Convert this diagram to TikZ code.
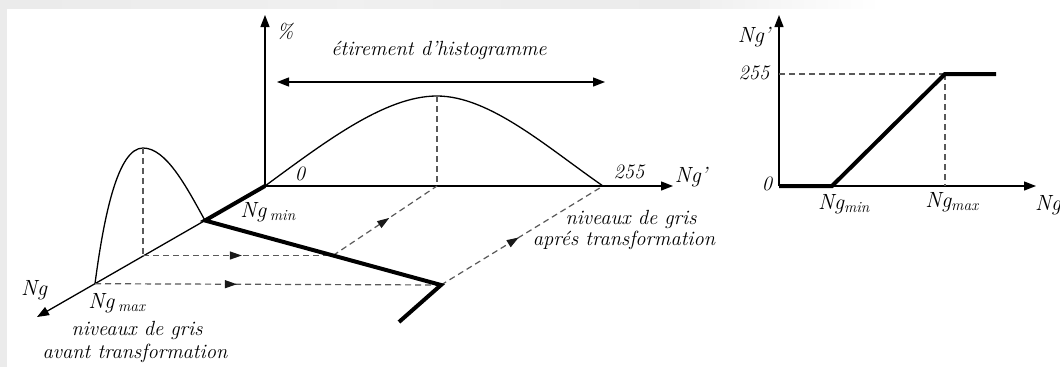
\documentclass[tikz,border=0pt]{standalone}
\usetikzlibrary{arrows.meta,decorations.markings}
\begin{document}
\begin{tikzpicture}[x=1pt,y=-1pt,
  thinln/.style={line width=1.3pt},
  thickln/.style={line width=4pt, line join=miter},
  tip/.tip={Triangle[length=12pt,width=9pt]},
  axis/.style={thinln,-tip},
  dsh/.style={line width=1.2pt, dash pattern=on 6pt off 4pt, draw=black!65},
  midarrow/.style={postaction={decorate}, decoration={markings,
     mark=at position #1 with {\arrow[black!90]{Triangle[length=12pt,width=8pt]}}}},
  lbl/.style={font=\fontsize{20.5}{24}\selectfont\itshape, inner sep=0pt},
  big/.style={font=\fontsize{22}{26}\selectfont\itshape, inner sep=0pt}]
\useasboundingbox (0,0) rectangle (1060,367);
\fill[white] (0,0) rectangle (1060,367);
\shade[left color=black!8, right color=black!8, middle color=black!6] (0,0) rectangle (700,8);
\shade[left color=black!6, right color=white] (700,0) rectangle (880,8);
\fill[black!8] (0,0) rectangle (7,367);

% ---- left: histograms ----
\coordinate (O) at (265,186);
\coordinate (Ptop) at (265,15);
\coordinate (Pright) at (673,186);
\coordinate (Ngtip) at (37,317);
\coordinate (A) at (205,220.5);
\coordinate (M) at (95,283.7);
\coordinate (S) at (143,148);
\coordinate (Sf) at (143,255.5);
\coordinate (Sr) at (500,255.5);
\coordinate (P) at (437,96);
\coordinate (Pf) at (437,186);
\coordinate (E) at (603,186);
\coordinate (B) at (441,285);
\coordinate (C) at (399,322);
\coordinate (X) at (intersection of A--B and Sf--Sr);
\coordinate (L1) at (277,82);
\coordinate (L2) at (605,82);

\draw[axis] (O) -- (Ptop);
\draw[axis] (O) -- (Pright);
\draw[axis] (O) -- (Ngtip);
\draw[thinln, tip-tip] (L1) -- (L2);

\draw[thinln] (O) .. controls (325,142) and (385,96) .. (P)
               .. controls (490,96) and (548,148) .. (E);
\draw[thinln] (M) .. controls (104,215) and (118,148) .. (S)
               .. controls (166,148) and (186,186) .. (A);

\draw[dsh] (S) -- (Sf);
\draw[dsh] (P) -- (Pf);

\draw[dsh, midarrow=0.52] (Sf) -- (X);
\draw[dsh, midarrow=0.54] (X) -- (Pf);
\draw[dsh, midarrow=0.41] (M) -- (B);
\draw[dsh, midarrow=0.48] (B) -- (E);

\draw[thickln] (O) -- (A) -- (B) -- (C);

\node[lbl] (pct) at (285,31) {\%};
\node[lbl] (etir) at (439,50) {étirement d’histogramme};
\node[lbl] (zero) at (300,174) {0};
\node[lbl] (t255) at (629,172) {255};
\node[big] (ngp) at (691,177) {Ng’};
\node[big] (ngmin) at (268,212) {Ng\,\textsubscript{min}};
\node[big] (ngmax) at (117,303) {Ng\,\textsubscript{max}};
\node[big] (ng) at (34,290) {Ng};
\node[lbl] (nv1) at (137,330) {niveaux de gris};
\node[lbl] (av) at (135,353) {avant transformation};
\node[lbl] (nv2) at (631,219) {niveaux de gris};
\node[lbl] (ap) at (624,240) {aprés transformation};

% ---- right: transfer function ----
\coordinate (R0) at (779,186);
\coordinate (Rtop) at (779,15);
\coordinate (Rright) at (1036,186);
\coordinate (R1) at (832,186);
\coordinate (R2) at (945,74);
\coordinate (R3) at (996,74);
\coordinate (R255) at (779,74);
\coordinate (Rf) at (945,186);

\draw[axis] (R0) -- (Rtop);
\draw[axis] (R0) -- (Rright);
\draw[dsh] (R255) -- (R2);
\draw[dsh] (R2) -- (Rf);
\draw[thickln] (R0) -- (R1) -- (R2) -- (R3);

\node[big] (rngp) at (754,37) {Ng’};
\node[lbl] (r255) at (754,73) {255};
\node[lbl] (r0) at (767,184) {0};
\node[big] (rngmin) at (844,204) {Ng\textsubscript{min}};
\node[big] (rngmax) at (952,202) {Ng\textsubscript{max}};
\node[big] (rng) at (1048,205) {Ng};
\end{tikzpicture}
\end{document}
